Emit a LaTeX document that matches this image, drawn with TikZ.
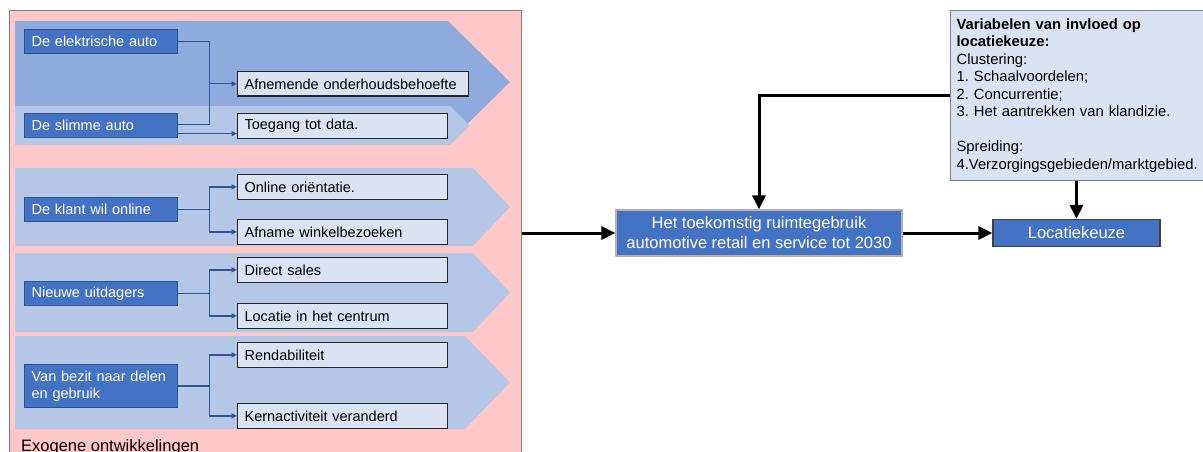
\documentclass[tikz,border=0pt]{standalone}
\usepackage{fontspec}
\setmainfont{Liberation Sans}
\usetikzlibrary{arrows.meta}
\frenchspacing
\definecolor{pinkfill}{RGB}{255,199,199}
\definecolor{pinkline}{RGB}{128,128,128}
\definecolor{chevdark}{RGB}{143,170,220}
\definecolor{chevlight}{RGB}{180,199,231}
\definecolor{dblue}{RGB}{68,114,196}
\definecolor{dborder}{RGB}{47,82,143}
\definecolor{lblue}{RGB}{218,227,243}
\definecolor{connblue}{RGB}{47,85,151}
\tikzset{
  darkbox/.style={draw=dborder, fill=dblue, text=white, line width=1.2,
    font=\fontsize{14.5}{17.7}\selectfont, inner xsep=7, inner ysep=0,
    text width=139, align=left, minimum height=#1, anchor=north west},
  darkbox/.default=24,
  lightbox/.style={draw=black!85, fill=lblue, text=black, line width=1.2,
    font=\fontsize{14.5}{17.7}\selectfont, inner xsep=7, inner ysep=0,
    text width=#1, align=left, minimum height=24.5, anchor=north west},
  lightbox/.default=196,
  conn/.style={draw=connblue, line width=1.3},
  connarrow/.style={conn, -{Triangle[length=5.5,width=5]}},
  barrow/.style={draw=black, line width=3, -{Triangle[length=14,width=13]}},
  mainbox/.style={fill=dblue, text=white, line width=1.2,
    font=\fontsize{16.5}{20}\selectfont, align=center, inner sep=0},
}
\begin{document}
\begin{tikzpicture}[x=1pt,y=-1pt]
\useasboundingbox (0,0) rectangle (1203,452);
% outer pink area
\node[draw=pinkline, fill=pinkfill, line width=1.2, minimum width=512, minimum height=452,
  anchor=north west, inner sep=0] (exo) at (9,10) {};
% chevrons
\fill[chevdark] (15,21) -- (448,21) -- (510,82) -- (448,143) -- (15,143) -- cycle;
\fill[chevlight] (15,106) -- (450,106) -- (469.5,125.5) -- (450,145) -- (15,145) -- cycle;
\fill[chevlight] (15,168) -- (473,168) -- (510,207) -- (473,246) -- (15,246) -- cycle;
\fill[chevlight] (15,253) -- (473,253) -- (510,292.5) -- (473,332) -- (15,332) -- cycle;
\fill[chevlight] (15,336) -- (465,336) -- (510,382.5) -- (465,429) -- (15,429) -- cycle;
% group 1
\node[darkbox] (e1) at (24,29) {De elektrische auto};
\node[darkbox] (s1) at (24,113) {De slimme auto};
\node[lightbox=217] (a1) at (237,71) {Afnemende onderhoudsbehoefte};
\node[lightbox] (t1) at (237,113) {Toegang tot data.};
\coordinate (j1) at ([xshift=31pt]e1.east |- a1.west);
\draw[conn] (e1.east) -| (j1) |- ([yshift=1pt]s1.east);
\draw[connarrow] (j1) -- (a1.west);
\draw[connarrow] ([yshift=-8pt]s1.east) -- ([yshift=-8pt]s1.east -| t1.west);
% group 2
\node[darkbox] (k2) at (24,197) {De klant wil online};
\node[lightbox] (o2) at (237,174) {Online oriëntatie.};
\node[lightbox] (w2) at (237,219) {Afname winkelbezoeken};
\coordinate (j2) at ([xshift=31pt]k2.east);
\draw[conn] (k2.east) -- (j2);
\draw[connarrow] (j2) |- (o2.west);
\draw[connarrow] (j2) |- (w2.west);
% group 3
\node[darkbox] (n3) at (24,281) {Nieuwe uitdagers};
\node[lightbox] (d3) at (237,257) {Direct sales};
\node[lightbox] (l3) at (237,303) {Locatie in het centrum};
\coordinate (j3) at ([xshift=31pt]n3.east);
\draw[conn] (n3.east) -- (j3);
\draw[connarrow] (j3) |- (d3.west);
\draw[connarrow] (j3) |- (l3.west);
% group 4
\node[darkbox=43] (v4) at (24,364) {Van bezit naar delen\\en gebruik};
\node[lightbox] (r4) at (237,342) {Rendabiliteit};
\node[lightbox] (c4) at (237,403) {Kernactiviteit veranderd};
\coordinate (j4) at ([xshift=31pt]v4.east);
\draw[conn] (v4.east) -- (j4);
\draw[connarrow] (j4) |- (r4.west);
\draw[connarrow] (j4) |- (c4.west);
% label
\node[anchor=base west, inner sep=0, font=\fontsize{16.5}{20}\selectfont] (exot) at (21,451) {Exogene ontwikkelingen};
% right part
\node[mainbox, draw=black!30, minimum width=286, minimum height=46] (het) at (759,233)
  {Het toekomstig ruimtegebruik\\automotive retail en service tot 2030};
\node[mainbox, draw=black!75, minimum width=167, minimum height=27] (loc) at (1076.5,233) {Locatiekeuze};
\node[draw=pinkline, fill=lblue, line width=1.2, anchor=north west, inner xsep=6, inner ysep=0,
  text width=242, minimum height=170, align=left, font=\fontsize{14.8}{17.5}\selectfont] (var) at (950,10)
  {\textbf{Variabelen van invloed op}\\\textbf{locatiekeuze:}\\Clustering:\\1. Schaalvoordelen;\\2. Concurrentie;\\3. Het aantrekken van klandizie.\\[17.5pt]Spreiding:\\4.Verzorgingsgebieden/marktgebied.};
\draw[barrow] (exo.east |- het.west) -- (het.west);
\draw[barrow] (het.east) -- (loc.west);
\draw[barrow] (var.west) -| (het.north);
\draw[barrow] (var.south -| loc.north) -- (loc.north);
\end{tikzpicture}
\end{document}
